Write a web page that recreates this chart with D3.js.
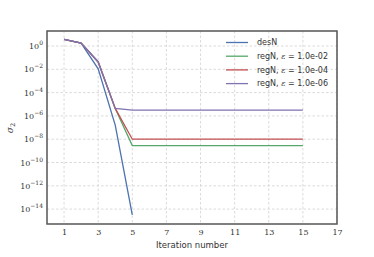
<!DOCTYPE html>
<html>
<head>
<meta charset="utf-8">
<script src="https://cdn.jsdelivr.net/npm/d3@7"></script>
<style>
  body { margin: 0; background: #fff; }
  svg { display: block; }
</style>
</head>
<body>
<svg id="chart"></svg>
<script>
const w = 374
const h = 257
const margin = { left: 47, right: 37, top: 31, bottom: 33 }

// values
const itersDes = [1, 2, 3, 4, 5]
const desN = [3.7, 1.8, 1.1e-2, 1.6e-7, 3.2e-15]

const itersReg = [1, 2, 3, 4, 5, 6, 7, 8, 9, 10, 11, 12, 13, 14, 15]
const regN2 = [3.7, 1.8, 4.3e-2, 4.4e-6, 2.8e-9, 2.8e-9, 2.8e-9, 2.8e-9, 2.8e-9, 2.8e-9, 2.8e-9, 2.8e-9, 2.8e-9, 2.8e-9, 2.8e-9]
const regN4 = [3.7, 1.8, 4.3e-2, 4.4e-6, 1.0e-8, 1.0e-8, 1.0e-8, 1.0e-8, 1.0e-8, 1.0e-8, 1.0e-8, 1.0e-8, 1.0e-8, 1.0e-8, 1.0e-8]
const regN6 = [3.7, 1.8, 4.3e-2, 4.4e-6, 3.2e-6, 3.2e-6, 3.2e-6, 3.2e-6, 3.2e-6, 3.2e-6, 3.2e-6, 3.2e-6, 3.2e-6, 3.2e-6, 3.2e-6]

const xTicks = [1, 3, 5, 7, 9, 11, 13, 15, 17]
const yTickExps = [0, -2, -4, -6, -8, -10, -12, -14]
const legendLabels = ["desN", "1.0e-02", "1.0e-04", "1.0e-06"]
const colors = ["#4C72B0", "#55A868", "#C44E52", "#8172B2"]

const series = [
  { xs: itersDes, ys: desN },
  { xs: itersReg, ys: regN2 },
  { xs: itersReg, ys: regN4 },
  { xs: itersReg, ys: regN6 }
]

const svg = d3.select("#chart").attr("width", w).attr("height", h)

const x = d3.scaleLinear().domain([0, 17]).range([margin.left, w - margin.right])
const y = d3.scaleLog().domain([Math.pow(10, -15.28), Math.pow(10, 1.29)]).range([h - margin.bottom, margin.top])

// grid
const grid = svg.append("g").attr("stroke", "#d0d0d0").attr("stroke-width", 0.8).attr("stroke-dasharray", "2.5,2")
grid.selectAll(".vx").data(xTicks).enter().append("line")
  .attr("x1", d => x(d)).attr("x2", d => x(d))
  .attr("y1", margin.top).attr("y2", h - margin.bottom)
grid.selectAll(".hy").data(yTickExps).enter().append("line")
  .attr("y1", d => y(Math.pow(10, d))).attr("y2", d => y(Math.pow(10, d)))
  .attr("x1", margin.left).attr("x2", w - margin.right)

// axes (labels only, no tick marks)
const xAxis = d3.axisBottom(x).tickValues(xTicks).tickSize(0).tickPadding(5)
const gx = svg.append("g").attr("transform", `translate(0, ${h - margin.bottom})`).call(xAxis)
gx.select(".domain").remove()
gx.selectAll("text").attr("font-family", "DejaVu Serif").attr("font-size", 8).attr("fill", "#333")

const yAxis = d3.axisLeft(y).tickValues(yTickExps.map(e => Math.pow(10, e))).tickSize(0).tickPadding(4).tickFormat("")
const gy = svg.append("g").attr("transform", `translate(${margin.left}, 0)`).call(yAxis)
gy.select(".domain").remove()
gy.selectAll(".tick").each(function(d) {
  const t = d3.select(this).select("text")
    .attr("font-family", "DejaVu Serif").attr("font-size", 8).attr("fill", "#333")
  t.append("tspan").text("10")
  t.append("tspan").attr("dy", -4).attr("font-size", 6).text(Math.round(Math.log10(d)) === 0 ? "0" : "\u2212" + Math.abs(Math.round(Math.log10(d))))
})

// lines
const line = d3.line().x(d => x(d[0])).y(d => y(d[1]))
svg.append("g").selectAll("path").data(series).enter().append("path")
  .attr("d", s => line(s.xs.map((v, i) => [v, s.ys[i]])))
  .attr("fill", "none")
  .attr("stroke", (s, i) => colors[i])
  .attr("stroke-width", 1.3)

// frame
svg.append("rect")
  .attr("x", margin.left).attr("y", margin.top)
  .attr("width", w - margin.left - margin.right).attr("height", h - margin.top - margin.bottom)
  .attr("fill", "none").attr("stroke", "#555").attr("stroke-width", 1.5)

// axis titles
svg.append("text").attr("x", (margin.left + w - margin.right) / 2).attr("y", 248)
  .attr("text-anchor", "middle").attr("font-family", "DejaVu Sans").attr("font-size", 8.5).attr("fill", "#333")
  .text("Iteration number")
svg.append("text").attr("transform", "translate(13, 128) rotate(-90)")
  .attr("text-anchor", "middle").attr("font-family", "DejaVu Serif").attr("font-style", "italic").attr("font-size", 9).attr("fill", "#333")
  .text("σ").append("tspan").attr("font-style", "normal").attr("font-size", 6.5).attr("dy", 2).text("2")

// legend
const legend = svg.append("g").attr("transform", "translate(226, 42.5)")
const rows = legend.selectAll("g").data(legendLabels).enter().append("g")
  .attr("transform", (d, i) => `translate(0, ${i * 13.7})`)
rows.append("line").attr("x1", 0).attr("x2", 22).attr("stroke", (d, i) => colors[i]).attr("stroke-width", 1.3)
rows.append("text").attr("x", 31).attr("dy", "0.35em")
  .attr("font-family", "DejaVu Sans").attr("font-size", 8).attr("fill", "#333")
  .each(function(d, i) {
    const t = d3.select(this)
    if (i === 0) { t.text(d); return }
    t.append("tspan").text("regN, ")
    t.append("tspan").attr("font-family", "DejaVu Serif").attr("font-style", "italic").text("ε")
    t.append("tspan").text(" = " + d)
  })
</script>
</body>
</html>
